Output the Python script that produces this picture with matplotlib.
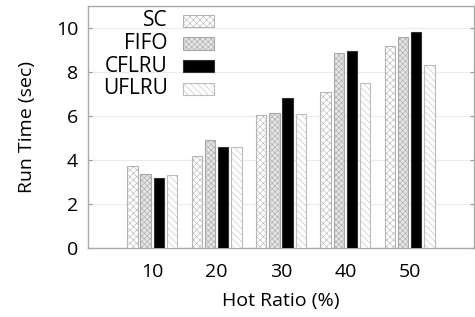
#!/usr/bin/env python3
"""Run time vs hot ratio, grouped bars for four buffer policies."""
import matplotlib
matplotlib.use("Agg")
import matplotlib.pyplot as plt
import numpy as np
from matplotlib.patches import Rectangle

plt.rcParams["font.family"] = ["Open Sans", "DejaVu Sans"]
plt.rcParams["hatch.linewidth"] = 0.4

hot_ratio = ["10", "20", "30", "40", "50"]
policies = ["SC", "FIFO", "CFLRU", "UFLRU"]
sc = [3.74, 4.19, 6.05, 7.11, 9.16]
fifo = [3.36, 4.90, 6.13, 8.86, 9.58]
cflru = [3.17, 4.57, 6.82, 8.94, 9.83]
uflru = [3.30, 4.60, 6.09, 7.49, 8.30]
yticks = [0, 2, 4, 6, 8, 10]

styles = {
    "SC": dict(facecolor="white", hatch="xxxxx", edgecolor="#b4b4b4"),
    "FIFO": dict(facecolor="#e4e4e4", hatch="xxxxxx", edgecolor="#a8a8a8"),
    "CFLRU": dict(facecolor="black", hatch=None, edgecolor="#303030"),
    "UFLRU": dict(facecolor="white", hatch="\\\\\\\\\\", edgecolor="#bcbcbc"),
}

fig = plt.figure(figsize=(4.75, 3.17), dpi=100)
ax = fig.add_axes([0.185, 0.218, 0.813, 0.763])

x = np.arange(1, len(hot_ratio) + 1)
width = 0.16
step = 0.205
for k, (name, vals) in enumerate(zip(policies, [sc, fifo, cflru, uflru])):
    offs = (k - 1.5) * step
    ax.bar(x + offs, vals, width, linewidth=0.8, zorder=3, **styles[name])

ax.set_xlim(0, 6)
ax.set_ylim(0, 11)
ax.set_xticks(x)
ax.set_xticklabels(hot_ratio)
ax.set_yticks(yticks)
ax.tick_params(axis="x", length=0, labelsize=14, pad=11)
ax.tick_params(axis="y", direction="in", length=3, color="#999999",
               labelsize=14, right=True, pad=7)
ax.grid(axis="y", color="#ebebeb", linewidth=0.8, zorder=0)
for sp in ax.spines.values():
    sp.set_color("#aaaaaa")
    sp.set_linewidth(1.0)

ax.set_xlabel("Hot Ratio (%)", fontsize=14, labelpad=8)
ax.set_ylabel("Run Time (sec)", fontsize=14, labelpad=14)

# legend drawn by hand: labels right aligned, swatch after text
for i, name in enumerate(policies):
    yy = 0.939 - i * 0.094
    ax.text(0.207, yy, name, transform=ax.transAxes, ha="right", va="center",
            fontsize=15, zorder=5)
    ax.add_patch(Rectangle((0.246, yy - 0.025), 0.08, 0.05,
                           transform=ax.transAxes, linewidth=0.8, zorder=5,
                           **styles[name]))

fig.savefig("out.png", dpi=100)
